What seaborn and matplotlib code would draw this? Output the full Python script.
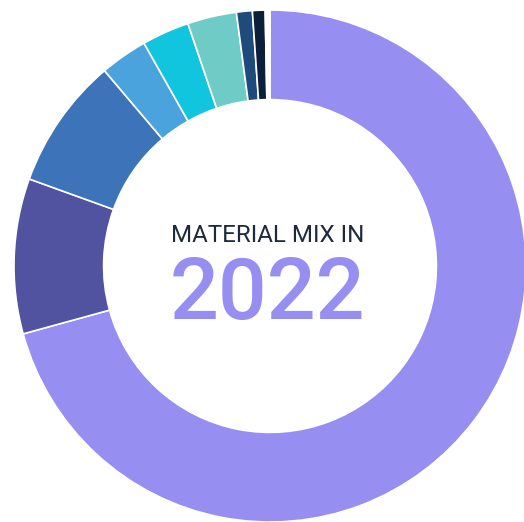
import matplotlib
matplotlib.use("Agg")
import matplotlib.pyplot as plt
import seaborn as sns

sns.set_theme(style="white")
plt.rcParams['font.family'] = ['Roboto', 'DejaVu Sans']

materials = ["A", "B", "C", "D", "E", "F", "G", "H", "I"]
shares = [70.8, 9.8, 8.3, 3.0, 3.0, 3.1, 1.0, 0.8, 0.3]
colors = ["#968ef0", "#5152a0", "#3d74b9", "#4aa3dc", "#11c5de",
          "#6ecbc6", "#1e4a7c", "#0a1f3a", "#ffffff"]
title_line = "MATERIAL MIX IN"
year_label = "2022"

fig = plt.figure(figsize=(5.24, 5.22), dpi=100)
ax = fig.add_axes([0, 0, 1, 1])
ax.pie(shares, colors=colors, startangle=90, counterclock=False,
       radius=1.0, wedgeprops=dict(width=0.35, edgecolor="white", linewidth=1.2))
s = 256.0
ax.set_xlim(-270 / s, (524 - 270) / s)
ax.set_ylim(-(522 - 266) / s, 266 / s)
ax.set_aspect("equal")
ax.axis("off")

ax.text(-0.01, 0.118, title_line, ha="center", va="center", fontsize=17.4,
        color="#1c2a3e", fontweight="normal")
ax.text(-0.01, -0.115, year_label, ha="center", va="center", fontsize=62,
        color="#968ef0", fontweight="medium")

fig.savefig("out.png", dpi=100, facecolor="white")
